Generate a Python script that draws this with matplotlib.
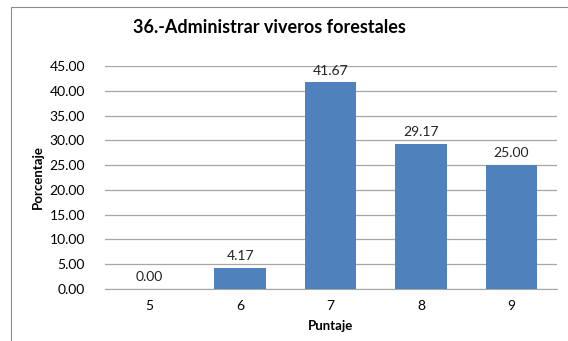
import numpy as np
import matplotlib.pyplot as plt
from matplotlib.patches import Rectangle

# DATA
puntaje = ['5', '6', '7', '8', '9']
porcentaje = [0.00, 4.17, 41.67, 29.17, 25.00]

plt.rcParams['font.family'] = ['Lato', 'DejaVu Sans']

fig = plt.figure(figsize=(5.68, 3.41), dpi=100)
ax = fig.add_axes([0.184, 0.1525, 0.796, 0.654])

x = np.arange(len(puntaje))
bars = ax.bar(x, porcentaje, width=0.57, color='#4F81BD', zorder=3)

# VALUE LABELS ABOVE BARS
for xi, v in zip(x, porcentaje):
    ax.text(xi, v + 1.2, '%.2f' % v, ha='center', va='bottom', fontsize=10, color='#222222')

ax.set_xlim(-0.5, len(puntaje) - 0.5)
ax.set_ylim(0, 45)
ax.set_yticks(np.arange(0, 46, 5))
ax.set_yticklabels(['%.2f' % t for t in np.arange(0, 46, 5)], fontsize=10)
ax.set_xticks(x)
ax.set_xticklabels(puntaje, fontsize=10)
ax.tick_params(length=0, pad=14)
ax.tick_params(axis='x', pad=8)
ax.yaxis.grid(True, color='#a6a6a6', linewidth=0.9, zorder=0)
for s in ['top', 'right', 'left']:
    ax.spines[s].set_visible(False)
ax.spines['bottom'].set_color('#a6a6a6')

ax.set_xlabel('Puntaje', fontsize=9.5, fontweight='bold', labelpad=6)
ax.set_ylabel('Porcentaje', fontsize=9.5, fontweight='bold', labelpad=4)

fig.text(0.475, 0.918, '36.-Administrar viveros forestales', ha='center', va='center',
         fontsize=13, fontweight='bold')

# CHART BORDER
fig.patches.append(Rectangle((0.019, -0.01), 1.0, 0.99, transform=fig.transFigure,
                             fill=False, edgecolor='#8c8c8c', linewidth=0.8))

fig.savefig('out.png', dpi=100)
